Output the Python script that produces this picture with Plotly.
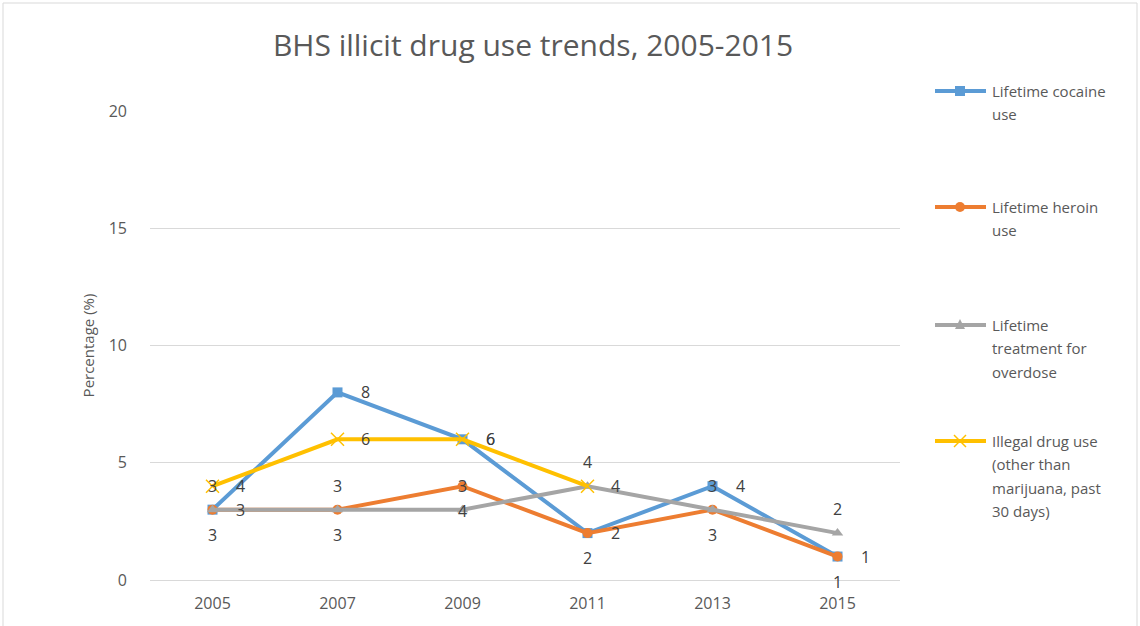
import plotly.graph_objects as go

# Survey years and series values (percent)
years = ["2005", "2007", "2009", "2011", "2013", "2015"]
cocaine = [3, 8, 6, 2, 4, 1]
heroin = [3, 3, 4, 2, 3, 1]
overdose = [3, 3, 3, 4, 3, 2]
illegal = [4, 6, 6, 4, None, None]

series_names = [
    ["Lifetime cocaine", "use"],
    ["Lifetime heroin", "use"],
    ["Lifetime", "treatment for", "overdose"],
    ["Illegal drug use", "(other than", "marijuana, past", "30 days)"],
]
colors = ["#5B9BD5", "#ED7D31", "#A5A5A5", "#FFC000"]
symbols = ["square", "circle", "triangle-up", "x-thin"]
series = [cocaine, heroin, overdose, illegal]
# data label placement per series: (xshift, yshift) in pixels
label_shift = [(28, 0), (0, -25), (0, 24), (28, 0)]

FONT = "Open Sans, sans-serif"
W, H = 1140, 626
L, R, T, B = 150, 240, 111, 46
PW, PH = W - L - R, H - T - B


def px_x(px):
    return (px - L) / PW


def px_y(py):
    return (H - B - py) / PH


fig = go.Figure()
for i, vals in enumerate(series):
    is_x = symbols[i] == "x-thin"
    fig.add_trace(go.Scatter(
        x=years, y=vals, name=" ".join(series_names[i]), mode="lines+markers",
        line=dict(color=colors[i], width=4),
        marker=dict(symbol=symbols[i], size=13 if is_x else 10, color=colors[i],
                    line=dict(color=colors[i], width=1.5 if is_x else 0)),
        showlegend=False,
    ))

annotations = []
for i, vals in enumerate(series):
    dx, dy = label_shift[i]
    for j, v in enumerate(vals):
        if v is None:
            continue
        annotations.append(dict(
            x=j, y=v, xref="x", yref="y", text=str(v), showarrow=False,
            xshift=dx, yshift=dy,
            font=dict(family=FONT, size=16, color="#404040"),
        ))

# Legend drawn at the right: glyph line + marker, then wrapped text lines
shapes = []
legend_tops = [91, 207, 325, 441]
line_step = 23.3
gx0, gx1, gxc, tx = 935, 986, 960, 990
ms = 5
for i, top in enumerate(legend_tops):
    c = colors[i]
    shapes.append(dict(type="line", xref="paper", yref="paper",
                       x0=px_x(gx0), x1=px_x(gx1), y0=px_y(top), y1=px_y(top),
                       line=dict(color=c, width=4)))
    if symbols[i] == "square":
        shapes.append(dict(type="rect", xref="paper", yref="paper",
                           x0=px_x(gxc - ms), x1=px_x(gxc + ms),
                           y0=px_y(top + ms), y1=px_y(top - ms),
                           line=dict(width=0), fillcolor=c))
    elif symbols[i] == "circle":
        shapes.append(dict(type="circle", xref="paper", yref="paper",
                           x0=px_x(gxc - ms), x1=px_x(gxc + ms),
                           y0=px_y(top + ms), y1=px_y(top - ms),
                           line=dict(width=0), fillcolor=c))
    elif symbols[i] == "triangle-up":
        path = "M {} {} L {} {} L {} {} Z".format(
            px_x(gxc - ms), px_y(top + ms - 1), px_x(gxc + ms), px_y(top + ms - 1),
            px_x(gxc), px_y(top - ms - 1))
        shapes.append(dict(type="path", xref="paper", yref="paper", path=path,
                           line=dict(width=0), fillcolor=c))
    else:
        for a, b in [(-1, 1), (1, -1)]:
            shapes.append(dict(type="line", xref="paper", yref="paper",
                               x0=px_x(gxc - 6), x1=px_x(gxc + 6),
                               y0=px_y(top + 6 * a), y1=px_y(top + 6 * b),
                               line=dict(color=c, width=1.5)))
    for k, txt in enumerate(series_names[i]):
        annotations.append(dict(
            x=px_x(tx), y=px_y(top + k * line_step), xref="paper", yref="paper",
            xanchor="left", yanchor="middle", text=txt, showarrow=False,
            font=dict(family=FONT, size=15, color="#595959"),
        ))

# Light border round the whole chart area
shapes.append(dict(type="rect", xref="paper", yref="paper",
                   x0=px_x(3), x1=px_x(1137), y0=px_y(640), y1=px_y(3),
                   line=dict(color="#D9D9D9", width=1), fillcolor="rgba(0,0,0,0)",
                   layer="below"))

fig.update_layout(
    width=W, height=H,
    margin=dict(l=L, r=R, t=T, b=B),
    paper_bgcolor="white", plot_bgcolor="white",
    showlegend=False,
    title=dict(text="BHS illicit drug use trends, 2005-2015", x=533 / W, xanchor="center",
               y=1 - 45 / H, yanchor="middle",
               font=dict(family=FONT, size=30, color="#595959")),
    xaxis=dict(type="category", range=[-0.5, 5.5], showgrid=False, ticks="",
               showline=False, zeroline=False, ticklabelstandoff=12,
               tickfont=dict(family=FONT, size=16, color="#595959")),
    yaxis=dict(range=[0, 20], dtick=5, showgrid=True, gridcolor="#D9D9D9", gridwidth=1,
               zeroline=True, zerolinecolor="#D9D9D9", zerolinewidth=1,
               ticks="", ticklabelstandoff=22,
               tickfont=dict(family=FONT, size=16, color="#595959"),
               title=dict(text="Percentage (%)", standoff=10,
                          font=dict(family=FONT, size=15, color="#595959"))),
    annotations=annotations,
    shapes=shapes,
)

fig.write_html("out.html")
